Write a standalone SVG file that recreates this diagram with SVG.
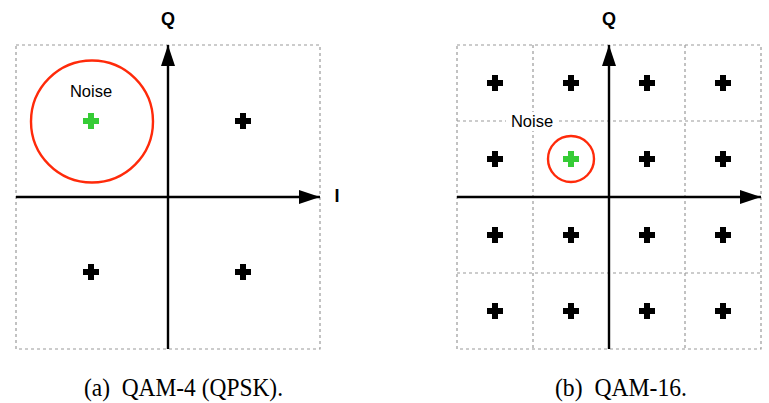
<svg xmlns="http://www.w3.org/2000/svg" width="769" height="403" viewBox="0 0 769 403">
<defs>
<style>
.grid{fill:none;stroke:#9a9a9a;stroke-width:1.2;stroke-dasharray:3 3}
.axis{stroke:#000;stroke-width:2.4;fill:none}
.lbl{font-family:"Liberation Sans",Arial,sans-serif;font-weight:bold;font-size:18px;fill:#000}
.noise{font-family:"Liberation Sans",Arial,sans-serif;font-size:16.5px;fill:#000}
.cap{font-family:"Liberation Serif","Times New Roman",serif;font-size:25px;fill:#000;white-space:pre}
.ring{fill:none;stroke:#ff2a0a;stroke-width:2.4}
</style>
<marker id="arr" markerWidth="21" markerHeight="14" refX="21" refY="7" orient="auto" markerUnits="userSpaceOnUse">
<path d="M0,0 L21,7 L0,14 Z" fill="#000"/>
</marker>
<path id="plus" d="M-3,-8 H3 V-3 H8 V3 H3 V8 H-3 V3 H-8 V-3 H-3 Z"/>
</defs>
<rect width="769" height="403" fill="#fff"/>

<g id="panel-a">
<rect class="grid" x="16" y="45" width="304" height="304"/>
<g id="a-noise">
<circle class="ring" cx="92" cy="121.5" r="61"/>
<text class="noise" x="91" y="97" text-anchor="middle">Noise</text>
<use href="#plus" x="91" y="121" fill="#36cc36"/>
</g>
<g id="a-points" fill="#000">
<use href="#plus" x="243" y="121"/>
<use href="#plus" x="91" y="272"/>
<use href="#plus" x="243" y="272"/>
</g>
<g id="a-axes">
<line class="axis" x1="16" y1="197" x2="320" y2="197" marker-end="url(#arr)"/>
<line class="axis" x1="168" y1="349" x2="168" y2="45" marker-end="url(#arr)"/>
</g>
<text class="lbl" x="168" y="25" text-anchor="middle">Q</text>
<text class="lbl" x="337" y="202" text-anchor="middle">I</text>
<text class="cap" xml:space="preserve" x="84" y="396" textLength="199" lengthAdjust="spacingAndGlyphs">(a)  QAM-4 (QPSK).</text>
</g>

<g id="panel-b">
<rect class="grid" x="457" y="45" width="304" height="304"/>
<g id="b-grid">
<line class="grid" x1="533" y1="45" x2="533" y2="349"/>
<line class="grid" x1="685" y1="45" x2="685" y2="349"/>
<line class="grid" x1="457" y1="121" x2="761" y2="121"/>
<line class="grid" x1="457" y1="273" x2="761" y2="273"/>
</g>
<g id="b-points" fill="#000">
<use href="#plus" x="495" y="83"/><use href="#plus" x="571" y="83"/><use href="#plus" x="647" y="83"/><use href="#plus" x="723" y="83"/>
<use href="#plus" x="495" y="159"/><use href="#plus" x="647" y="159"/><use href="#plus" x="723" y="159"/>
<use href="#plus" x="495" y="235"/><use href="#plus" x="571" y="235"/><use href="#plus" x="647" y="235"/><use href="#plus" x="723" y="235"/>
<use href="#plus" x="495" y="311"/><use href="#plus" x="571" y="311"/><use href="#plus" x="647" y="311"/><use href="#plus" x="723" y="311"/>
</g>
<g id="b-noise">
<rect x="506" y="112" width="52" height="19" fill="#fff"/>
<text class="noise" x="532" y="127" text-anchor="middle">Noise</text>
<circle class="ring" cx="571" cy="159" r="23"/>
<use href="#plus" x="571" y="159" fill="#36cc36"/>
</g>
<g id="b-axes">
<line class="axis" x1="457" y1="197" x2="761" y2="197" marker-end="url(#arr)"/>
<line class="axis" x1="609" y1="349" x2="609" y2="45" marker-end="url(#arr)"/>
</g>
<text class="lbl" x="609" y="25" text-anchor="middle">Q</text>
<text class="cap" xml:space="preserve" x="555" y="396" textLength="132" lengthAdjust="spacingAndGlyphs">(b)  QAM-16.</text>
</g>
</svg>
